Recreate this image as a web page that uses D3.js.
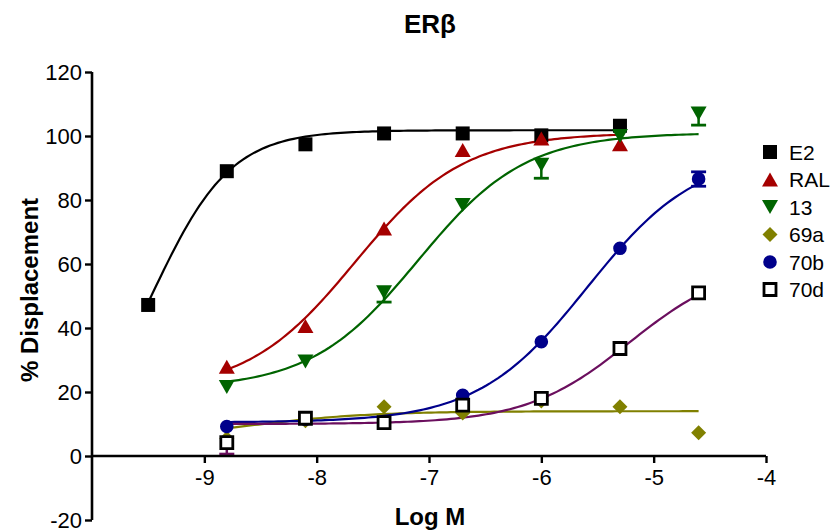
<!DOCTYPE html>
<html>
<head>
<meta charset="utf-8">
<script src="https://cdn.jsdelivr.net/npm/d3@7"></script>
<style>
  html, body { margin: 0; padding: 0; background: #fff; }
  svg { display: block; font-family: "Liberation Sans", Arial, sans-serif; }
</style>
</head>
<body>
<svg id="chart" width="838" height="531"></svg>
<script>
// ---- data: log concentration (M) and % displacement per compound ----
const seriesNames = ["E2", "RAL", "13", "69a", "70b", "70d"];
const seriesColors = ["#000000", "#A50000", "#006400", "#808000", "#00008B", "#000000"];
const curveColors  = ["#000000", "#A50000", "#006400", "#808000", "#00008B", "#6B0F5E"];

const xE2  = [-9.5, -8.8, -8.1, -7.4, -6.7, -6.0, -5.3];
const yE2  = [47.2, 89.0, 97.4, 100.8, 100.8, 100.2, 103.2];

const xRAL = [-8.8, -8.1, -7.4, -6.7, -6.0, -5.3];
const yRAL = [27.9, 40.6, 71.1, 95.6, 99.2, 97.4];

const x13  = [-8.8, -8.1, -7.4, -6.7, -6.0, -5.3, -4.6];
const y13  = [21.6, 29.5, 51.2, 78.4, 91.0, 100.0, 107.0];
const err13Down = [0, 0, 3.1, 0, 4.2, 0, 3.6];
const err13Up   = [0, 0, 0, 0, 0, 0, 0];

const x69a = [-8.8, -8.1, -7.4, -6.7, -6.0, -5.3, -4.6];
const y69a = [5.5, 11.0, 15.4, 13.4, 17.2, 15.4, 7.3];

const x70b = [-8.8, -8.1, -7.4, -6.7, -6.0, -5.3, -4.6];
const y70b = [9.2, 11.5, 10.7, 19.0, 35.7, 64.9, 86.6];
const err70bDown = [0, 0, 0, 0, 0, 0, 2.3];
const err70bUp   = [0, 0, 0, 0, 0, 0, 2.2];

const x70d = [-8.8, -8.1, -7.4, -6.7, -6.0, -5.3, -4.6];
const y70d = [4.2, 11.8, 10.4, 15.9, 18.0, 33.6, 51.0];
const err70dDown = [3.6, 0, 0, 0, 0, 0, 0];
const err70dUp   = [0, 0, 0, 0, 0, 0, 0];

// sigmoidal dose-response fit parameters (bottom, top, logEC50, Hill slope)
const fitBottom  = [0,      20,    21,    5,     10.5,  10];
const fitTop     = [101.8,  101,   101,   14,    95,    61];
const fitLogEC50 = [-9.46,  -7.66, -7.10, -8.6,  -5.59, -5.215];
const fitHill    = [1.25,   0.9,   0.91,  0.8,   0.89,  0.94];

const xTicks = [-9, -8, -7, -6, -5, -4];
const yTicks = [-20, 0, 20, 40, 60, 80, 100, 120];

const series = [
  { x: xE2,  y: yE2,  down: null,       up: null,     marker: "square" },
  { x: xRAL, y: yRAL, down: null,       up: null,     marker: "triUp" },
  { x: x13,  y: y13,  down: err13Down,  up: err13Up,  marker: "triDown" },
  { x: x69a, y: y69a, down: null,       up: null,     marker: "diamond" },
  { x: x70b, y: y70b, down: err70bDown, up: err70bUp, marker: "circle" },
  { x: x70d, y: y70d, down: err70dDown, up: err70dUp, marker: "openSquare" }
];

// ---- layout ----
const svg = d3.select("#chart");
const xScale = d3.scaleLinear().domain([-10, -4]).range([92, 766]);
const yScale = d3.scaleLinear().domain([-20, 120]).range([520, 72]);

// marker path generators, centred on (0,0)
function markerPath(kind) {
  switch (kind) {
    case "square":     return "M-7,-7H7V7H-7Z";
    case "openSquare": return "M-6,-6H6V6H-6Z";
    case "triUp":      return "M0,-7L8,7L-8,7Z";
    case "triDown":    return "M0,7L8,-7L-8,-7Z";
    case "diamond":    return "M0,-7.5L7.5,0L0,7.5L-7.5,0Z";
    case "circle":     return d3.symbol(d3.symbolCircle, Math.PI * 6.8 * 6.8)();
  }
}

// ---- fitted curves ----
function dose(i, x) {
  return fitBottom[i] + (fitTop[i] - fitBottom[i]) /
    (1 + Math.pow(10, (fitLogEC50[i] - x) * fitHill[i]));
}
const line = d3.line().x(d => xScale(d[0])).y(d => yScale(d[1])).curve(d3.curveLinear);
const curveG = svg.append("g");
series.forEach((s, i) => {
  const [lo, hi] = d3.extent(s.x);
  const pts = d3.range(0, 121).map(k => {
    const x = lo + (hi - lo) * k / 120;
    return [x, dose(i, x)];
  });
  curveG.append("path")
    .attr("d", line(pts))
    .attr("fill", "none")
    .attr("stroke", curveColors[i])
    .attr("stroke-width", 2.2);
});

// ---- error bars ----
const errG = svg.append("g");
function errBar(cx, yFrom, yTo, col) {
  errG.append("line").attr("x1", cx).attr("x2", cx).attr("y1", yFrom).attr("y2", yTo)
    .attr("stroke", col).attr("stroke-width", 2.5);
  errG.append("line").attr("x1", cx - 7.5).attr("x2", cx + 7.5).attr("y1", yTo).attr("y2", yTo)
    .attr("stroke", col).attr("stroke-width", 2.8);
}
series.forEach((s, i) => {
  s.x.forEach((xv, j) => {
    const cx = xScale(xv);
    const col = curveColors[i];
    if (s.down && s.down[j] > 0) errBar(cx, yScale(s.y[j]), yScale(s.y[j] - s.down[j]), col);
    if (s.up && s.up[j] > 0) errBar(cx, yScale(s.y[j]), yScale(s.y[j] + s.up[j]), col);
  });
});

// ---- markers ----
function drawMarker(g, kind, color, cx, cy) {
  const p = g.append("path")
    .attr("d", markerPath(kind))
    .attr("transform", `translate(${cx},${cy})`);
  if (kind === "openSquare") {
    p.attr("fill", "#fff").attr("stroke", color).attr("stroke-width", 2.8);
  } else {
    p.attr("fill", color);
  }
}
const markG = svg.append("g");
series.forEach((s, i) => {
  s.x.forEach((xv, j) => drawMarker(markG, s.marker, seriesColors[i], xScale(xv), yScale(s.y[j])));
});

// ---- axes ----
const axisFont = 22;
const xAxis = d3.axisBottom(xScale).tickValues(xTicks).tickSize(7).tickPadding(6).tickFormat(d3.format("d"));
const yAxis = d3.axisLeft(yScale).tickValues(yTicks).tickSize(7).tickPadding(3).tickFormat(d3.format("d"));

const gx = svg.append("g").attr("transform", `translate(0,${yScale(0)})`).call(xAxis);
const gy = svg.append("g").attr("transform", `translate(${xScale(-10)},0)`).call(yAxis);
[gx, gy].forEach(g => {
  g.select(".domain").attr("stroke", "#000").attr("stroke-width", 2.6);
  g.selectAll(".tick line").attr("stroke", "#000").attr("stroke-width", 2.4);
  g.selectAll(".tick text").attr("fill", "#000").style("font-size", axisFont + "px")
    .style("font-family", "Liberation Sans, Arial, sans-serif");
});
// tick labels use a hyphen-minus for negatives
gx.selectAll(".tick text").text(d => String(d));
gy.selectAll(".tick text").text(d => String(d));
// x axis domain starts exactly at the y axis, no outer end ticks
gx.select(".domain").attr("d", `M${xScale(-10)},0H${xScale(-4)}`);
gy.select(".domain").attr("d", `M0,${yScale(120)}V${yScale(-20)}`);

// ---- titles ----
svg.append("text")
  .attr("x", 430).attr("y", 33)
  .attr("text-anchor", "middle")
  .style("font-size", "26px").style("font-weight", "bold")
  .text("ERβ");

svg.append("text")
  .attr("x", 430).attr("y", 525)
  .attr("text-anchor", "middle")
  .style("font-size", "24px").style("font-weight", "bold")
  .text("Log M");

svg.append("text")
  .attr("transform", "translate(38,290) rotate(-90)")
  .attr("text-anchor", "middle")
  .style("font-size", "24px").style("font-weight", "bold")
  .text("% Displacement");

// ---- legend ----
const legend = svg.append("g");
seriesNames.forEach((name, i) => {
  const ly = 152 + i * 27.5;
  drawMarker(legend, series[i].marker, seriesColors[i], 770, ly);
  legend.append("text")
    .attr("x", 789).attr("y", ly + 7.5)
    .style("font-size", "21px")
    .text(name);
});
</script>
</body>
</html>
